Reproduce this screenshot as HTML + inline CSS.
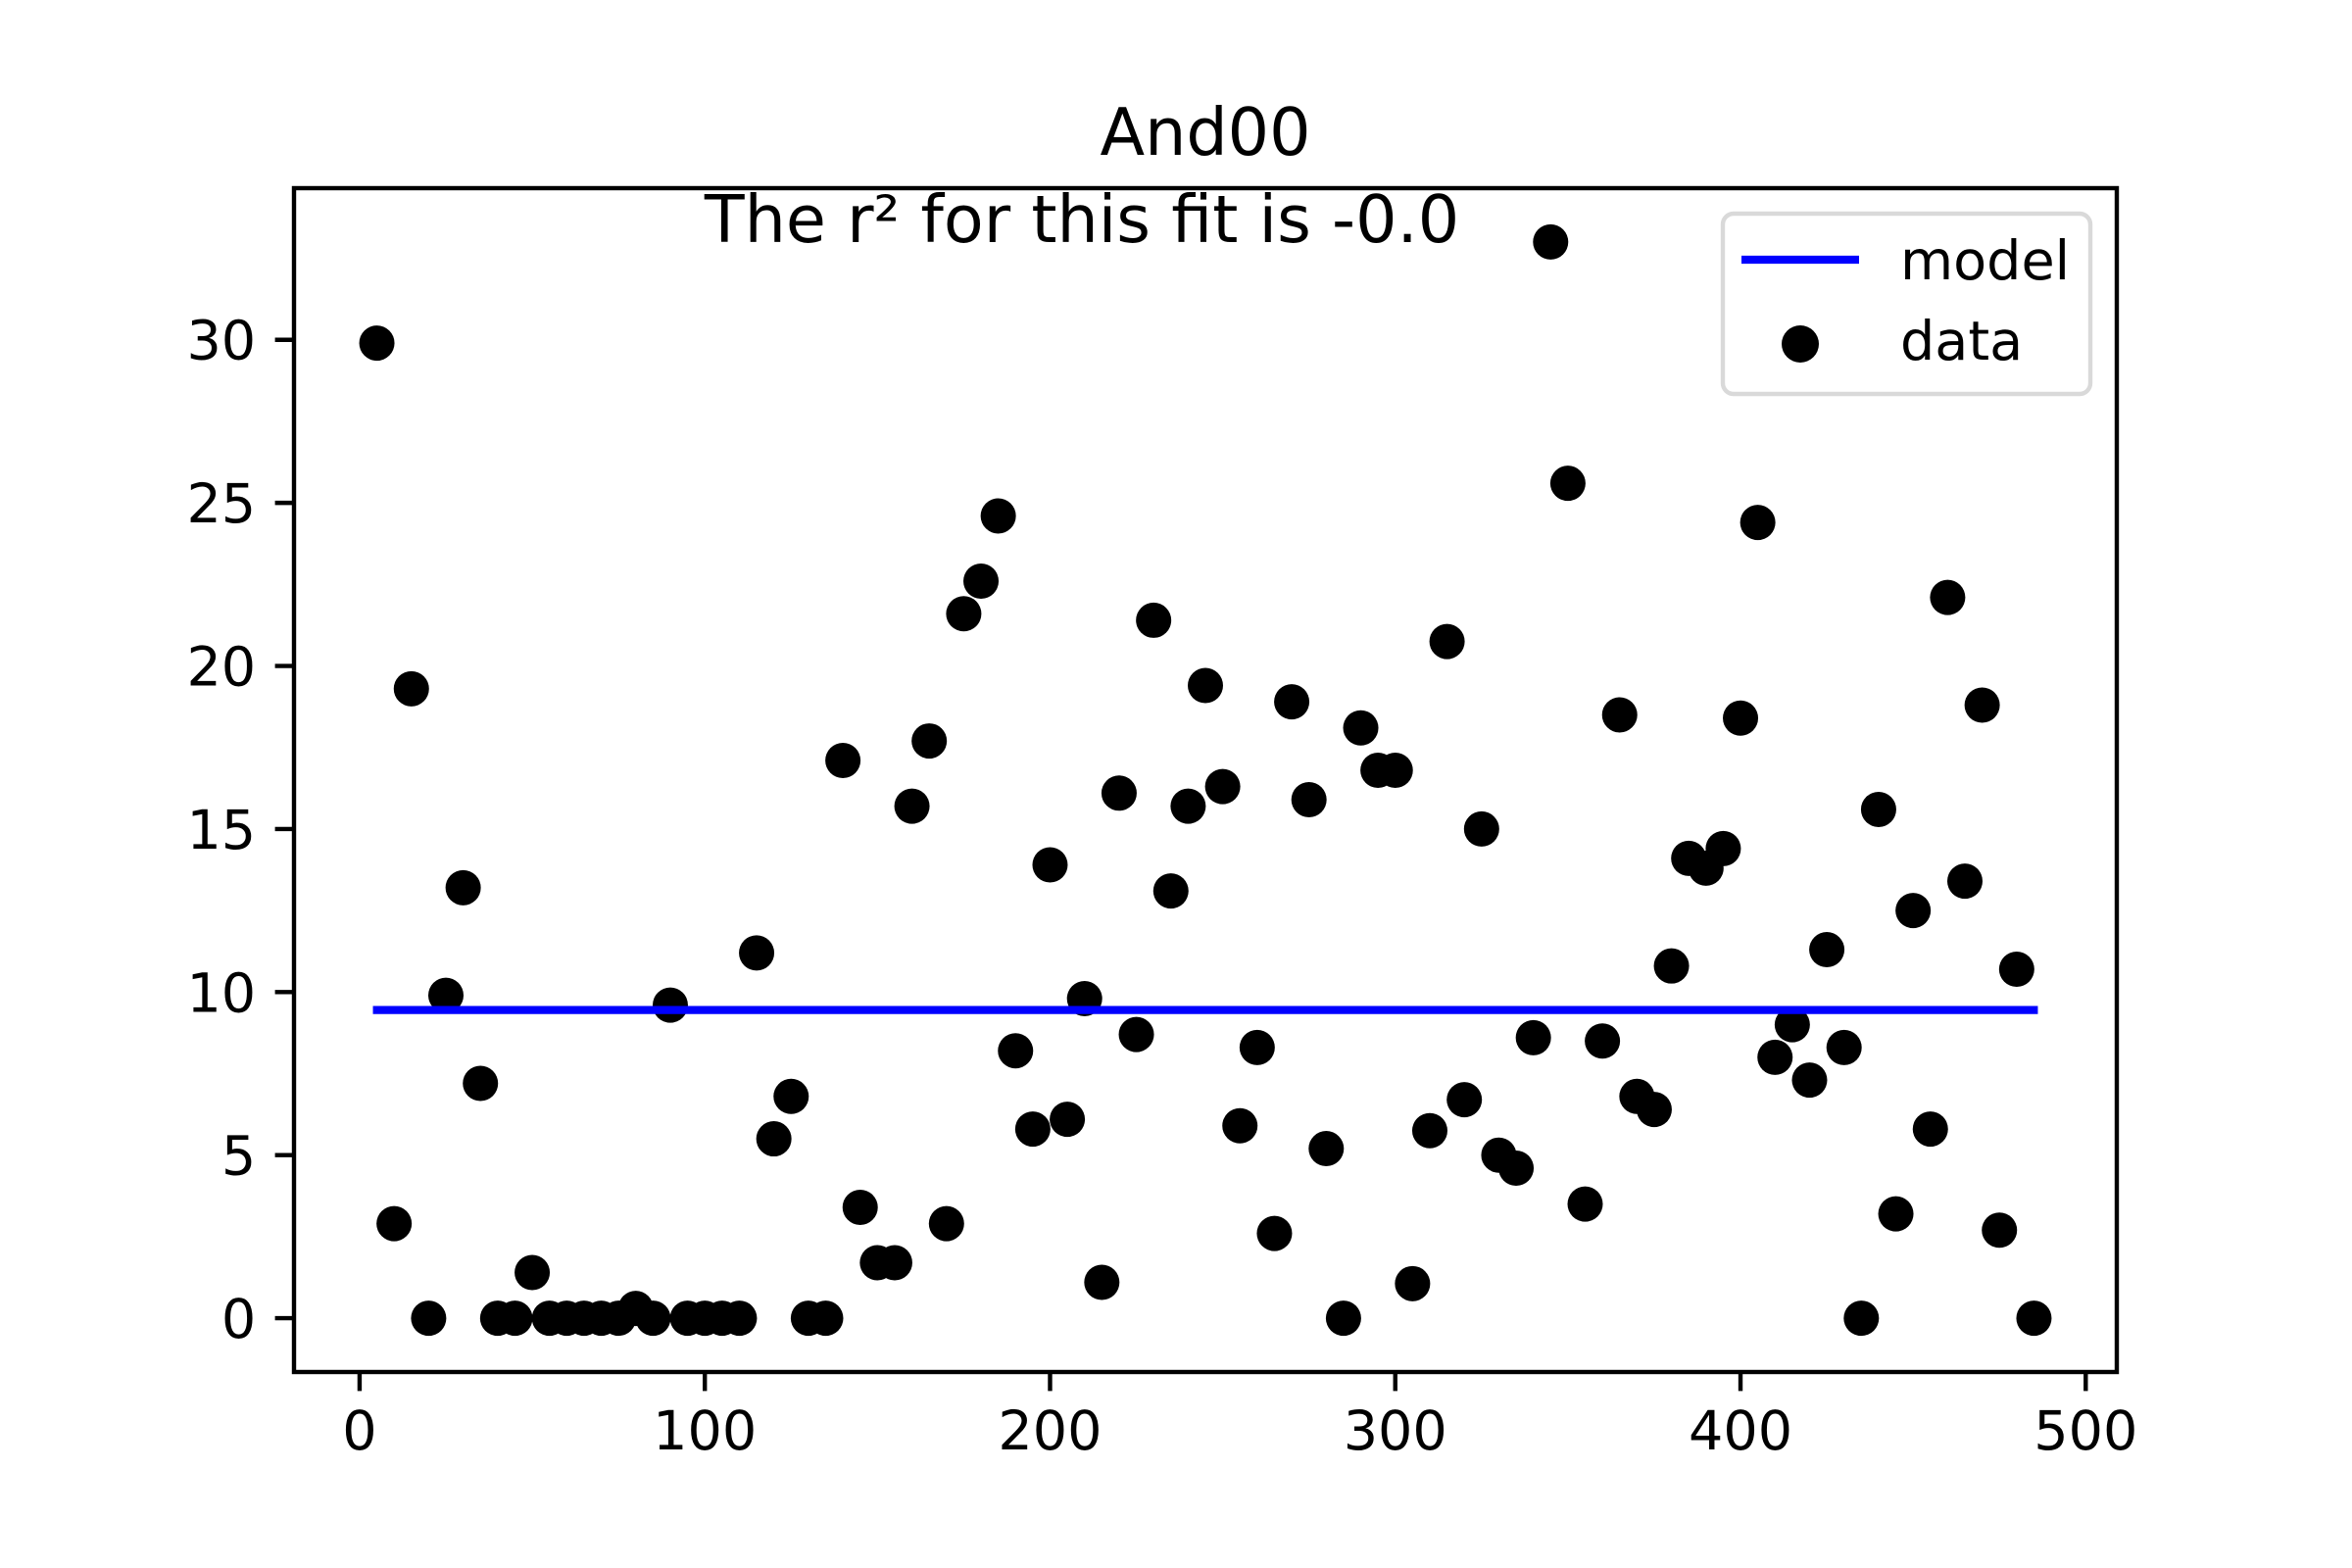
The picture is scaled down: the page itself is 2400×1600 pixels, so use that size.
<!DOCTYPE html>
<html><head><meta charset="utf-8"><style>
html,body{margin:0;padding:0;background:#fff;}
svg{display:block;font-family:"DejaVu Sans","Liberation Sans",sans-serif;}
</style></head><body>
<svg id="chart" width="2400" height="1600" viewBox="0 0 2400 1600" xmlns="http://www.w3.org/2000/svg">
<rect width="2400" height="1600" fill="#fff"/>
<text x="1230" y="158" font-size="66.7" text-anchor="middle">And00</text>
<g id="plot"></g>
<text x="1104" y="247" font-size="66.7" text-anchor="middle">The r² for this fit is -0.0</text>
<g>
<rect x="1758" y="218" width="375" height="184" rx="11" fill="#fff" fill-opacity="0.8" stroke="#d9d9d9" stroke-width="4.4"/>
<line x1="1777" y1="265" x2="1897" y2="265" stroke="#0000ff" stroke-width="8.3"/>
<text x="1939" y="285" font-size="55.6">model</text>
<circle cx="1837" cy="351" r="19" fill="#000"/>
<text x="1939" y="367" font-size="55.6">data</text>
</g>
</svg>
<script>
const xValues = [5,10,15,20,25,30,35,40,45,50,55,60,65,70,75,80,85,90,95,100,105,110,115,120,125,130,135,140,145,150,155,160,165,170,175,180,185,190,195,200,205,210,215,220,225,230,235,240,245,250,255,260,265,270,275,280,285,290,295,300,305,310,315,320,325,330,335,340,345,350,355,360,365,370,375,380,385,390,395,400,405,410,415,420,425,430,435,440,445,450,455,460,465,470,475,480,485];
const yValues = [29.9,2.9,19.3,0,9.9,13.2,7.2,0,0,1.4,0,0,0,0,0,0.3,0,9.6,0,0,0,0,11.2,5.5,6.8,0,0,17.1,3.4,1.7,1.7,15.7,17.7,2.9,21.6,22.6,24.6,8.2,5.8,13.9,6.1,9.8,1.1,16.1,8.7,21.4,13.1,15.7,19.4,16.3,5.9,8.3,2.6,18.9,15.9,5.2,0,18.1,16.8,16.8,1.06,5.75,20.75,6.7,15.0,5.0,4.6,8.6,33.0,25.6,3.5,8.5,18.5,6.8,6.4,10.8,14.1,13.8,14.4,18.4,24.4,8.0,9.0,7.3,11.3,8.3,0,15.6,3.2,12.5,5.8,22.1,13.4,18.8,2.7,10.7,0];
const modelValue = [9.45];
const xTicks = [0,100,200,300,400,500];
const yTicks = [0,5,10,15,20,25,30];

const NS = "http://www.w3.org/2000/svg";
const L=300,R=2160,T=192,B=1400;
const xmin0=Math.min(...xValues), xmax0=Math.max(...xValues);
const ymin0=Math.min(...yValues, modelValue[0]), ymax0=Math.max(...yValues, modelValue[0]);
const xm=(xmax0-xmin0)*0.05, ym=(ymax0-ymin0)*0.05;
const xlo=xmin0-xm, xhi=xmax0+xm, ylo=ymin0-ym, yhi=ymax0+ym;
function sx(v){return L+(v-xlo)/(xhi-xlo)*(R-L);}
function sy(v){return B-(v-ylo)/(yhi-ylo)*(B-T);}
const g=document.getElementById('plot');
function mk(tag,attrs){const e=document.createElementNS(NS,tag);for(const k in attrs)e.setAttribute(k,attrs[k]);g.appendChild(e);return e;}

xValues.forEach((x,i)=>{
  const c=mk('circle',{cx:sx(x),cy:sy(yValues[i]),r:18,fill:'#000'});
  
  
});
const ml=mk('line',{x1:sx(xmin0)-4,x2:sx(xmax0)+4,y1:sy(modelValue[0]),y2:sy(modelValue[0]),stroke:'#0000ff','stroke-width':8.3});


const fr=mk('rect',{x:L,y:T,width:R-L,height:B-T,fill:'none',stroke:'#000','stroke-width':4.4});


xTicks.forEach(t=>{
  const x=sx(t);
  const tl=mk('line',{x1:x,x2:x,y1:B,y2:B+19.4,stroke:'#000','stroke-width':4.4});
  
  
  const tx=mk('text',{x:x,y:B+19.4+19.4+40,'font-size':55.6,'text-anchor':'middle'});
  tx.textContent=String(t);
  
  
});
yTicks.forEach(t=>{
  const y=sy(t);
  const tl=mk('line',{x1:L-19.4,x2:L,y1:y,y2:y,stroke:'#000','stroke-width':4.4});
  
  
  const tx=mk('text',{x:L-19.4-19.4,y:y+20,'font-size':55.6,'text-anchor':'end'});
  tx.textContent=String(t);
  
  
});
</script>
</body></html>
